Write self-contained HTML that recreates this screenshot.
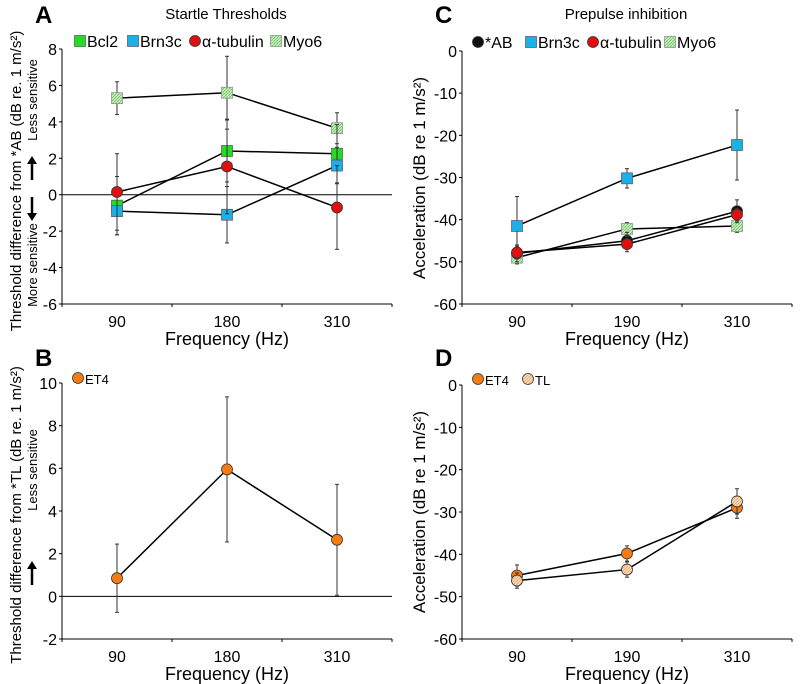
<!DOCTYPE html>
<html><head><meta charset="utf-8"><style>
body{margin:0;background:#fff}
svg{display:block;font-family:"Liberation Sans",Arial,sans-serif}
</style></head><body>
<svg id="fig" width="800" height="684" viewBox="0 0 800 684" xmlns="http://www.w3.org/2000/svg">
<defs>
<pattern id="hatchG" width="3" height="3" patternUnits="userSpaceOnUse"><rect width="3" height="3" fill="#c8f0c0"/><path d="M0 3L3 0" stroke="#6cc060" stroke-width="0.8"/></pattern>
<pattern id="hatchO" width="3" height="3" patternUnits="userSpaceOnUse"><rect width="3" height="3" fill="#fde0c0"/><path d="M0 3L3 0" stroke="#e8a060" stroke-width="0.8"/></pattern>
</defs>
<g id="root"></g>
</svg>
<script>
const catsA=["90","180","310"];
const catsC=["90","190","310"];
const ticksA=[8,6,4,2,0,-2,-4,-6];
const ticksB=[10,8,6,4,2,0,-2];
const ticksC=[0,-10,-20,-30,-40,-50,-60];
const aMyo6=[5.3,5.6,3.65], aMyo6Err=[0.9,2.0,0.85];
const aBcl2=[-0.6,2.4,2.25], aBcl2Err=[1.6,1.7,1.6];
const aBrn3c=[-0.9,-1.1,1.6], aBrn3cErr=[1.3,1.55,1.0];
const aTub=[0.15,1.55,-0.7], aTubErr=[2.1,2.6,2.3];
const cAB=[-48,-45,-38], cABErr=[2,2,2.7];
const cBrn3c=[-41.5,-30.2,-22.3], cBrn3cErr=[7,2.3,8.3];
const cTub=[-47.8,-45.8,-38.8], cTubErr=[1.5,1.8,1.5];
const cMyo6=[-49,-42.2,-41.5], cMyo6Err=[1.5,1.5,1.5];
const bET4=[0.85,5.95,2.65], bET4Err=[1.6,3.4,2.6];
const dET4=[-45,-39.8,-29], dET4Err=[2.5,1.8,2.5];
const dTL=[-46.2,-43.6,-27.5], dTLErr=[1.8,1.8,3];

const NS="http://www.w3.org/2000/svg";
const root=document.getElementById('root');
function mk(tag,attrs,parent,text){const e=document.createElementNS(NS,tag);for(const k in attrs)e.setAttribute(k,attrs[k]);if(text!==undefined)e.textContent=text;(parent||root).appendChild(e);return e;}

function panel(opt){
  const g=mk('g',{});
  
  
  const x0=opt.x0,x1=opt.x0+330,yt=opt.yt,yb=opt.yb;
  const vmax=opt.ticks[0],vmin=opt.ticks[opt.ticks.length-1];
  const ys=v=>yb-(v-vmin)/(vmax-vmin)*(yb-yt);
  const xs=i=>x0+55+i*110;
  mk('line',{x1:x0,y1:yt,x2:x0,y2:yb,stroke:'#000','stroke-width':1},g);
  mk('line',{x1:x0,y1:yb,x2:x1,y2:yb,stroke:'#000','stroke-width':1},g);
  opt.ticks.forEach(t=>{const y=ys(t);
    mk('line',{x1:x0-3,y1:y,x2:x0,y2:y,stroke:'#000'},g);
    const tl=mk('text',{x:x0-5,y:y+6,'text-anchor':'end','font-size':16},g,String(t));
    
    
  });
  for(let i=0;i<=3;i++){mk('line',{x1:x0+i*110,y1:yb,x2:x0+i*110,y2:yb+3,stroke:'#000'},g);}
  opt.cats.forEach((c,i)=>{const tl=mk('text',{x:xs(i),y:yb+23,'text-anchor':'middle','font-size':16},g,c);
    
    });
  const xt=mk('text',{x:x0+165,y:yb+41,'text-anchor':'middle','font-size':18},g,'Frequency (Hz)');
  
  
  if(opt.zero){mk('line',{x1:x0,y1:ys(0),x2:x1,y2:ys(0),stroke:'#000','stroke-width':1},g);}
  opt.series.forEach(s=>{
    const sg=mk('g',{},g);
    
    
    s.v.forEach((v,i)=>{const x=xs(i);
      mk('line',{x1:x,y1:ys(v+s.e[i]),x2:x,y2:ys(v-s.e[i]),stroke:'#333','stroke-width':1},sg);
      mk('line',{x1:x-2,y1:ys(v+s.e[i]),x2:x+2,y2:ys(v+s.e[i]),stroke:'#333'},sg);
      mk('line',{x1:x-2,y1:ys(v-s.e[i]),x2:x+2,y2:ys(v-s.e[i]),stroke:'#333'},sg);});
    mk('polyline',{points:s.v.map((v,i)=>xs(i)+','+ys(v)).join(' '),fill:'none',stroke:'#000','stroke-width':1.5},sg);
    s.v.forEach((v,i)=>{const m=marker(s,xs(i),ys(v),sg);
      
      });
  });
  return {g,ys,xs};
}
function marker(s,x,y,p){
  if(s.shape==='sq')return mk('rect',{x:x-5.5,y:y-5.5,width:11,height:11,fill:s.fill,stroke:s.stroke||'#555','stroke-width':0.7},p);
  return mk('circle',{cx:x,cy:y,r:5.5,fill:s.fill,stroke:'#333','stroke-width':0.8},p);
}
function legend(items,x,y,fs){
  const lg=mk('g',{});
  
  
  items.forEach(it=>{
    const m=marker(it,x+it.dx,y,lg);
    const t=mk('text',{x:x+it.dx+7,y:y+6,'font-size':fs},lg,it.label);
    
    
  });
}
function txt(s,attrs,name){const t=mk('text',attrs,root,s);return t;}
function arrow(x,y1,y2,name){const g=mk('g',{});
  const d=y2>y1?1:-1;
  mk('line',{x1:x,y1:y1,x2:x,y2:y2-d*6,stroke:'#000','stroke-width':2.5},g);
  mk('polygon',{points:`${x-5},${y2-d*8} ${x+5},${y2-d*8} ${x},${y2}`,fill:'#000'},g);}

const GREEN='#22dd22',BLUE='#1ab0e8',RED='#e01010',ORANGE='#f47c14';
panel({name:'panel-a',x0:62,yt:49,yb:304,ticks:ticksA,cats:catsA,zero:true,series:[
 {key:'myo6',v:aMyo6,e:aMyo6Err,shape:'sq',fill:'url(#hatchG)',stroke:'#888'},
 {key:'bcl2',v:aBcl2,e:aBcl2Err,shape:'sq',fill:GREEN},
 {key:'brn3c',v:aBrn3c,e:aBrn3cErr,shape:'sq',fill:BLUE},
 {key:'alpha-tubulin',v:aTub,e:aTubErr,shape:'c',fill:RED}]});
legend([{dx:0,shape:'sq',fill:GREEN,label:'Bcl2'},{dx:53,shape:'sq',fill:BLUE,label:'Brn3c'},{dx:115,shape:'c',fill:RED,label:'α-tubulin'},{dx:196,shape:'sq',fill:'url(#hatchG)',stroke:'#888',label:'Myo6'}],80,41,16);
panel({name:'panel-c',x0:462,yt:51,yb:304,ticks:ticksC,cats:catsC,zero:false,series:[
 {key:'brn3c',v:cBrn3c,e:cBrn3cErr,shape:'sq',fill:BLUE},
 {key:'myo6',v:cMyo6,e:cMyo6Err,shape:'sq',fill:'url(#hatchG)',stroke:'#888'},
 {key:'ab',v:cAB,e:cABErr,shape:'c',fill:'#111'},
 {key:'alpha-tubulin',v:cTub,e:cTubErr,shape:'c',fill:RED}]});
legend([{dx:0,shape:'c',fill:'#111',label:'*AB'},{dx:53,shape:'sq',fill:BLUE,label:'Brn3c'},{dx:115,shape:'c',fill:RED,label:'α-tubulin'},{dx:192,shape:'sq',fill:'url(#hatchG)',stroke:'#888',label:'Myo6'}],478,42,16);
panel({name:'panel-b',x0:62,yt:383,yb:639,ticks:ticksB,cats:catsA,zero:true,series:[
 {key:'et4',v:bET4,e:bET4Err,shape:'c',fill:ORANGE}]});
legend([{dx:0,shape:'c',fill:ORANGE,label:'ET4'}],78,378,13);
panel({name:'panel-d',x0:462,yt:385,yb:639,ticks:ticksC,cats:catsC,zero:false,series:[
 {key:'et4',v:dET4,e:dET4Err,shape:'c',fill:ORANGE},
 {key:'tl',v:dTL,e:dTLErr,shape:'c',fill:'url(#hatchO)'}]});
legend([{dx:0,shape:'c',fill:ORANGE,label:'ET4'},{dx:50,shape:'c',fill:'url(#hatchO)',label:'TL'}],478,379,13);

txt('A',{x:35,y:23,'font-size':24,'font-weight':'bold'},'panel-letter-a');
txt('B',{x:35,y:366,'font-size':24,'font-weight':'bold'},'panel-letter-b');
txt('C',{x:435,y:23,'font-size':24,'font-weight':'bold'},'panel-letter-c');
txt('D',{x:435,y:366,'font-size':24,'font-weight':'bold'},'panel-letter-d');
txt('Startle Thresholds',{x:226,y:19,'text-anchor':'middle','font-size':15},'chart-title-a');
txt('Prepulse inhibition',{x:626,y:19,'text-anchor':'middle','font-size':15},'chart-title-c');

txt('Threshold difference from *AB (dB re. 1 m/s²)',{transform:'translate(21,181) rotate(-90)','text-anchor':'middle','font-size':15},'y-axis-title-a');
txt('Less sensitive',{transform:'translate(37,100) rotate(-90)','text-anchor':'middle','font-size':13},'less-sensitive-label-a');
txt('More sensitive',{transform:'translate(37,265) rotate(-90)','text-anchor':'middle','font-size':13},'more-sensitive-label-a');
arrow(32,180,156,'arrow-up-a');
arrow(32,197,221,'arrow-down-a');
txt('Threshold difference from *TL (dB re. 1 m/s²)',{transform:'translate(21,515) rotate(-90)','text-anchor':'middle','font-size':15},'y-axis-title-b');
txt('Less sensitive',{transform:'translate(37,470) rotate(-90)','text-anchor':'middle','font-size':13},'less-sensitive-label-b');
arrow(32,585,561,'arrow-up-b');
txt('Acceleration (dB re 1 m/s²)',{transform:'translate(425,178) rotate(-90)','text-anchor':'middle','font-size':17},'y-axis-title-c');
txt('Acceleration (dB re 1 m/s²)',{transform:'translate(425,512) rotate(-90)','text-anchor':'middle','font-size':17},'y-axis-title-d');
</script>
</body></html>
